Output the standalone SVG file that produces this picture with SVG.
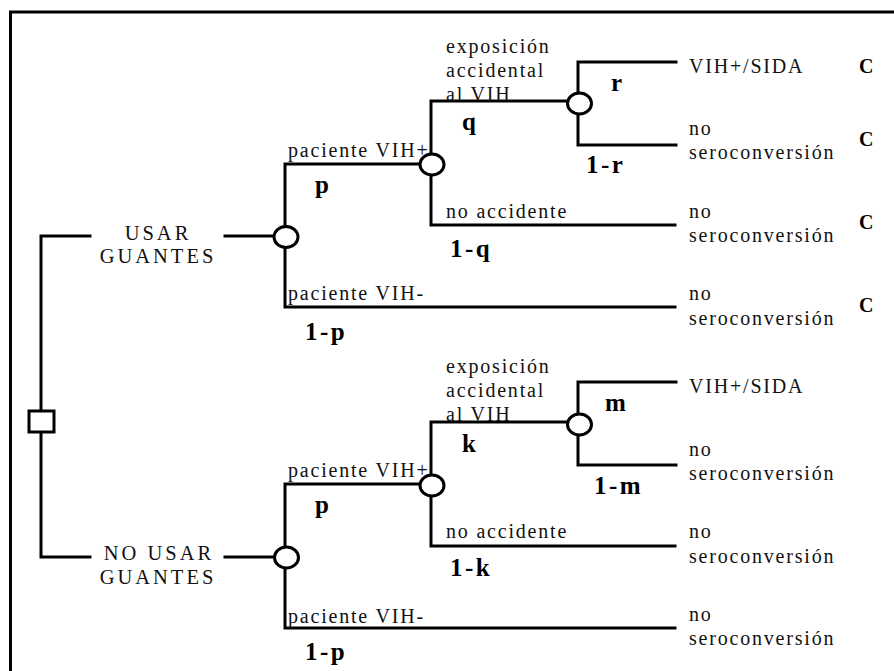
<svg xmlns="http://www.w3.org/2000/svg" width="894" height="671" viewBox="0 0 894 671">
<style>
.ln{fill:none;stroke:#000;stroke-width:3;stroke-linecap:square}
.nd{fill:#fff;stroke:#000;stroke-width:3}
.t{font-family:"Liberation Serif","Times New Roman",serif;font-size:20px;letter-spacing:1.8px;fill:#111}
.d{font-family:"Liberation Serif","Times New Roman",serif;font-size:20.5px;letter-spacing:3px;fill:#111;text-anchor:middle}
.b{font-family:"Liberation Serif","Times New Roman",serif;font-size:25px;font-weight:bold;letter-spacing:2.5px;fill:#000}
.c{font-family:"Liberation Serif","Times New Roman",serif;font-size:20px;font-weight:bold;fill:#000}
</style>
<rect width="894" height="671" fill="#fff"/>
<path class="ln" d="M10.5,671 V12 H894" stroke-linecap="butt"/>

<g id="connectors">
  <path class="ln" d="M90,236 H41 V557 H90"/>
  <path class="ln" d="M225,236 H274"/>
  <path class="ln" d="M420,164 H285 V307 H675"/>
  <path class="ln" d="M567,101 H431 V225 H675"/>
  <path class="ln" d="M676,62 H578 V145 H676"/>
  <path class="ln" d="M225,557 H274"/>
  <path class="ln" d="M420,484 H285 V628 H675"/>
  <path class="ln" d="M567,422 H431 V546 H675"/>
  <path class="ln" d="M676,382 H578 V465 H676"/>
</g>

<g id="decision">
  <rect class="nd" x="29" y="411" width="25" height="21"/>
</g>

<g id="usar-guantes">
  <text class="d" x="158" y="240">USAR</text>
  <text class="d" x="158" y="263">GUANTES</text>
</g>
<g id="no-usar-guantes">
  <text class="d" x="159" y="560">NO USAR</text>
  <text class="d" x="158" y="584">GUANTES</text>
</g>

<g id="chance-u1">
  <ellipse class="nd" cx="286" cy="237" rx="12" ry="10.5"/>
  <text class="t" x="288" y="157">paciente VIH+</text>
  <text class="b" x="315" y="193">p</text>
  <text class="t" x="288" y="300">paciente VIH-</text>
  <text class="b" x="305" y="340">1-p</text>
</g>
<g id="chance-u2">
  <ellipse class="nd" cx="432" cy="164.5" rx="12" ry="10.5"/>
  <text class="t" x="446" y="53">exposición</text>
  <text class="t" x="446" y="77">accidental</text>
  <text class="t" x="446" y="101">al VIH</text>
  <text class="b" x="462" y="130">q</text>
  <text class="t" x="446" y="218">no accidente</text>
  <text class="b" x="450" y="257">1-q</text>
</g>
<g id="chance-u3">
  <ellipse class="nd" cx="579.5" cy="103.5" rx="12" ry="10.5"/>
  <text class="b" x="611" y="91">r</text>
  <text class="b" x="586" y="173">1-r</text>
</g>
<g id="outcomes-upper">
  <text class="t" x="689" y="73">VIH+/SIDA</text>
  <text class="c" x="859" y="73">C</text>
  <text class="t" x="689" y="135">no</text>
  <text class="t" x="689" y="159">seroconversión</text>
  <text class="c" x="859" y="146">C</text>
  <text class="t" x="689" y="218">no</text>
  <text class="t" x="689" y="242">seroconversión</text>
  <text class="c" x="859" y="229">C</text>
  <text class="t" x="689" y="300">no</text>
  <text class="t" x="689" y="325">seroconversión</text>
  <text class="c" x="859" y="312">C</text>
</g>

<g id="chance-l1">
  <ellipse class="nd" cx="286.5" cy="557.5" rx="12" ry="10.5"/>
  <text class="t" x="288" y="477">paciente VIH+</text>
  <text class="b" x="315" y="513">p</text>
  <text class="t" x="288" y="623">paciente VIH-</text>
  <text class="b" x="305" y="660">1-p</text>
</g>
<g id="chance-l2">
  <ellipse class="nd" cx="432" cy="485.5" rx="12" ry="10.5"/>
  <text class="t" x="446" y="373">exposición</text>
  <text class="t" x="446" y="397">accidental</text>
  <text class="t" x="446" y="421">al VIH</text>
  <text class="b" x="462" y="452">k</text>
  <text class="t" x="446" y="538">no accidente</text>
  <text class="b" x="450" y="576">1-k</text>
</g>
<g id="chance-l3">
  <ellipse class="nd" cx="579.5" cy="424.5" rx="12" ry="10.5"/>
  <text class="b" x="605" y="411">m</text>
  <text class="b" x="594" y="494">1-m</text>
</g>
<g id="outcomes-lower">
  <text class="t" x="689" y="393">VIH+/SIDA</text>
  <text class="t" x="689" y="456">no</text>
  <text class="t" x="689" y="480">seroconversión</text>
  <text class="t" x="689" y="538">no</text>
  <text class="t" x="689" y="563">seroconversión</text>
  <text class="t" x="689" y="621">no</text>
  <text class="t" x="689" y="645">seroconversión</text>
</g>
</svg>
